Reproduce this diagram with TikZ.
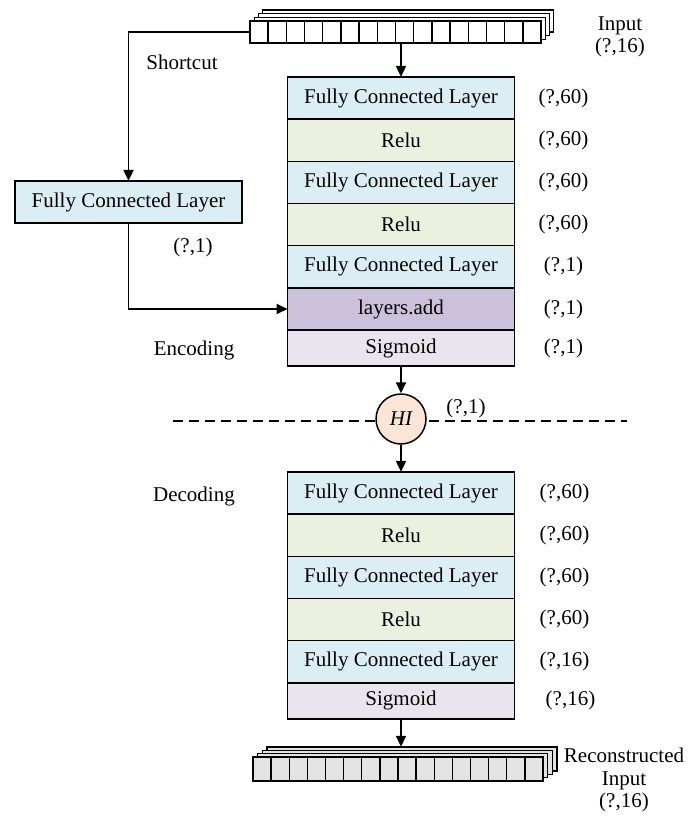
\documentclass[tikz,border=0pt]{standalone}
\usepackage{fontspec}
\setmainfont{Liberation Serif}
\usetikzlibrary{positioning,arrows.meta}
\definecolor{fcblue}{HTML}{DAEEF3}
\definecolor{relugreen}{HTML}{EBF1DE}
\definecolor{addpurple}{HTML}{CCC1DA}
\definecolor{sigpurple}{HTML}{E9E5EF}
\definecolor{hipeach}{HTML}{FBE5D6}
\definecolor{tensorgray}{HTML}{E3E3E3}
\tikzset{every node/.style={font=\fontsize{21}{22.5}\selectfont},
  layer/.style={draw, line width=1.5pt, minimum width=227pt, minimum height=42.2pt, inner sep=0pt, outer sep=0pt},
  fc/.style={layer, fill=fcblue},
  relu/.style={layer, fill=relugreen},
  addl/.style={layer, fill=addpurple},
  sig/.style={layer, fill=sigpurple, minimum height=36pt},
  cellrow/.style={draw, line width=1.4pt, minimum width=291pt, minimum height=22pt, inner sep=0pt, outer sep=0pt, anchor=north west},
  flow/.style={line width=1.8pt, -{Triangle[length=11pt,width=10pt]}}}

\begin{document}
\begin{tikzpicture}[x=1pt,y=-1pt]
  \useasboundingbox (0,0) rectangle (694,819);
  % input tensor
  \foreach \k in {3,2,1}
    \draw[line width=1.4pt, fill=white] (250+4.2*\k,21-3.7*\k) rectangle +(291,22);
  \node[cellrow, fill=white] (in) at (250,21) {};
  \foreach \i in {1,...,15}
    \draw[line width=1.4pt] ([xshift=\i*18.19pt]in.north west) -- ([xshift=\i*18.19pt]in.south west);
  \node[align=center] (inlbl) at (620,37) {Input\\(?,16)};

  % encoder
  \node[fc] (e1) at (401,98) {Fully Connected Layer};
  \node[relu, below=0pt of e1] (e2) {Relu};
  \node[fc, below=0pt of e2] (e3) {Fully Connected Layer};
  \node[relu, below=0pt of e3] (e4) {Relu};
  \node[fc, below=0pt of e4] (e5) {Fully Connected Layer};
  \node[addl, below=0pt of e5] (e6) {layers.add};
  \node[sig, below=0pt of e6] (e7) {Sigmoid};
  \foreach \n/\t in {e1/60,e2/60,e3/60,e4/60,e5/1,e6/1,e7/1}
    \node (\n-dim) at ([xshift=49pt]\n.east) {(?,\t)};
  \node (enc) at (194,350) {Encoding};
  \draw[flow] (in.south -| e1.north) -- (e1.north);

  % shortcut
  \node[fc] (sc) at (128.5,202) {Fully Connected Layer};
  \node (sclbl) at (182,62) {Shortcut};
  \node (scdim) at (193,247) {(?,1)};
  \draw[flow] (in.west) -| (sc.north);
  \draw[flow] (sc.south) |- (e6.west);

  % code
  \coordinate (dl) at (173,421);
  \coordinate (dr) at (627,421);
  \draw[line width=1.4pt, dash pattern=on 10pt off 6pt] (dl) -- (dr);
  \node[circle, draw, fill=hipeach, line width=1.5pt, minimum size=50pt, inner sep=0pt, font=\fontsize{21}{22.5}\selectfont\itshape] (hi) at (401,419) {HI};
  \node (hidim) at (466,408) {(?,1)};
  \draw[flow] (e7.south) -- (hi.north);

  % decoder
  \node[fc] (d1) at (401,493) {Fully Connected Layer};
  \node[relu, below=0pt of d1] (d2) {Relu};
  \node[fc, below=0pt of d2] (d3) {Fully Connected Layer};
  \node[relu, below=0pt of d3] (d4) {Relu};
  \node[fc, below=0pt of d4] (d5) {Fully Connected Layer};
  \node[sig, below=0pt of d5] (d6) {Sigmoid};
  \foreach \n/\t/\s in {d1/60/50,d2/60/50,d3/60/50,d4/60/50,d5/16/50,d6/16/56}
    \node (\n-dim) at ([xshift=\s pt]\n.east) {(?,\t)};
  \node (dec) at (194,496) {Decoding};
  \draw[flow] (hi.south) -- (d1.north);

  % output tensor
  \foreach \k in {3,2,1}
    \draw[line width=1.4pt, fill=tensorgray] (253+4.6*\k,757-3.4*\k) rectangle +(290,24);
  \node[cellrow, fill=tensorgray, minimum width=290pt, minimum height=24pt] (out) at (253,757) {};
  \foreach \i in {1,...,15}
    \draw[line width=1.4pt] ([xshift=\i*18.125pt]out.north west) -- ([xshift=\i*18.125pt]out.south west);
  \coordinate (outtop) at (266.8,746.8);
  \draw[flow] (d6.south) -- (d6.south |- outtop);
  \node[align=center] (outlbl) at (624,780) {Reconstructed\\Input\\(?,16)};
\end{tikzpicture}
\end{document}
